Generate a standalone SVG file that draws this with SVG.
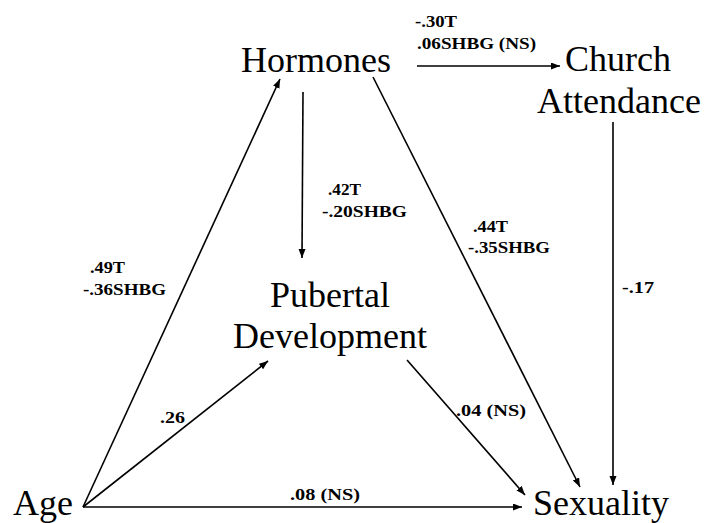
<svg xmlns="http://www.w3.org/2000/svg" width="706" height="523" viewBox="0 0 706 523">
  <style>
    .node { font-family: 'Liberation Serif', 'DejaVu Serif', 'Times New Roman', serif; font-size: 36px; fill: #000; }
    .coef { font-family: 'Liberation Serif', 'DejaVu Serif', 'Times New Roman', serif; font-size: 17px; font-weight: bold; fill: #000; }
    .edge { stroke: #000; stroke-width: 1.6; fill: none; marker-end: url(#arrow); }
  </style>
  <defs>
    <marker id="arrow" markerUnits="userSpaceOnUse" markerWidth="10" markerHeight="8" refX="9" refY="3.5" orient="auto">
      <path d="M0,0 L9,3.5 L0,7 z" fill="#000"/>
    </marker>
  </defs>
  <rect width="706" height="523" fill="#fff"/>

  <!-- connectors -->
  <g id="connectors">
    <line class="edge" x1="83" y1="507" x2="280" y2="79"/>
    <line class="edge" x1="303" y1="92" x2="302" y2="258"/>
    <line class="edge" x1="417" y1="66" x2="560" y2="66"/>
    <line class="edge" x1="373" y1="77" x2="580" y2="487"/>
    <line class="edge" x1="613" y1="122" x2="613" y2="485"/>
    <line class="edge" x1="83" y1="507" x2="268" y2="361"/>
    <line class="edge" x1="407" y1="360" x2="525" y2="495"/>
    <line class="edge" x1="83" y1="507" x2="522" y2="507"/>
  </g>

  <!-- path coefficients -->
  <g id="coefficients">
    <text class="coef" x="415" y="27" textLength="42" lengthAdjust="spacingAndGlyphs">-.30T</text>
    <text class="coef" x="417" y="49" textLength="119" lengthAdjust="spacingAndGlyphs">.06SHBG (NS)</text>
    <text class="coef" x="328" y="195" textLength="33" lengthAdjust="spacingAndGlyphs">.42T</text>
    <text class="coef" x="322" y="217" textLength="85" lengthAdjust="spacingAndGlyphs">-.20SHBG</text>
    <text class="coef" x="90" y="273" textLength="35" lengthAdjust="spacingAndGlyphs">.49T</text>
    <text class="coef" x="83" y="295" textLength="83" lengthAdjust="spacingAndGlyphs">-.36SHBG</text>
    <text class="coef" x="473" y="232" textLength="35" lengthAdjust="spacingAndGlyphs">.44T</text>
    <text class="coef" x="468" y="253" textLength="82" lengthAdjust="spacingAndGlyphs">-.35SHBG</text>
    <text class="coef" x="622" y="293" textLength="32" lengthAdjust="spacingAndGlyphs">-.17</text>
    <text class="coef" x="160" y="423" textLength="25" lengthAdjust="spacingAndGlyphs">.26</text>
    <text class="coef" x="456" y="416" textLength="70" lengthAdjust="spacingAndGlyphs">.04 (NS)</text>
    <text class="coef" x="290" y="500" textLength="70" lengthAdjust="spacingAndGlyphs">.08 (NS)</text>
  </g>

  <!-- nodes -->
  <g id="hormones">
    <text class="node" x="316" y="72" text-anchor="middle">Hormones</text>
  </g>
  <g id="church-attendance">
    <text class="node" x="565" y="71">Church</text>
    <text class="node" x="537" y="113">Attendance</text>
  </g>
  <g id="pubertal-development">
    <text class="node" x="330" y="307" text-anchor="middle">Pubertal</text>
    <text class="node" x="330" y="348" text-anchor="middle">Development</text>
  </g>
  <g id="age">
    <text class="node" x="13" y="515">Age</text>
  </g>
  <g id="sexuality">
    <text class="node" x="533" y="515">Sexuality</text>
  </g>
</svg>
